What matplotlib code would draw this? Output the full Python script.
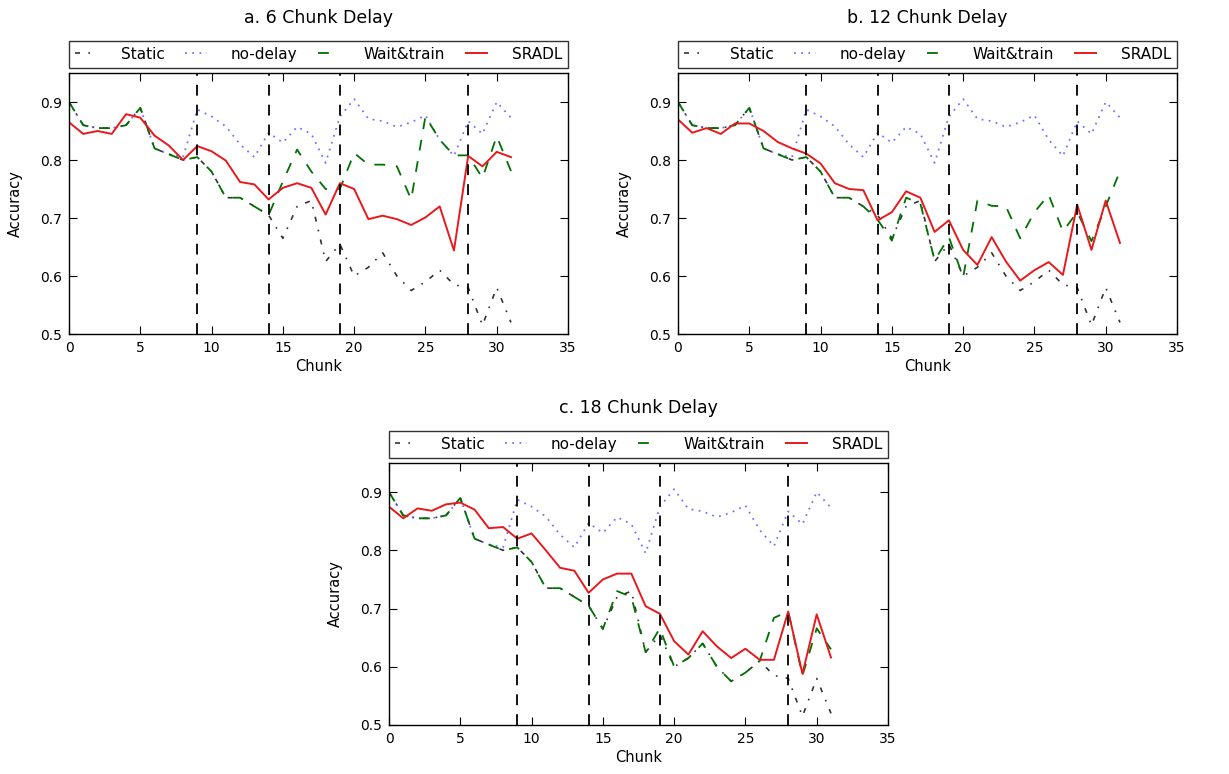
import numpy as np
import matplotlib
matplotlib.use("Agg")
import matplotlib.pyplot as plt

chunks = np.arange(32)

static = [0.90, 0.86, 0.855, 0.855, 0.86, 0.89, 0.82, 0.81, 0.80, 0.805,
          0.78, 0.735, 0.735, 0.72, 0.705, 0.665, 0.72, 0.73, 0.625, 0.655,
          0.60, 0.615, 0.64, 0.60, 0.575, 0.59, 0.61, 0.585, 0.58, 0.515,
          0.58, 0.52]

no_delay = [0.90, 0.86, 0.855, 0.855, 0.86, 0.89, 0.82, 0.81, 0.805, 0.887,
            0.875, 0.858, 0.827, 0.805, 0.847, 0.83, 0.857, 0.845, 0.795, 0.875,
            0.905, 0.871, 0.867, 0.857, 0.865, 0.877, 0.835, 0.807, 0.867, 0.845,
            0.90, 0.873]

# Wait&train for 6 / 12 / 18 chunk delay
wait_a = [0.90, 0.86, 0.855, 0.855, 0.86, 0.89, 0.82, 0.81, 0.80, 0.805,
          0.78, 0.735, 0.735, 0.72, 0.705, 0.763, 0.818, 0.78, 0.75, 0.75,
          0.812, 0.792, 0.792, 0.789, 0.732, 0.875, 0.835, 0.808, 0.808, 0.769,
          0.841, 0.781]
wait_b = [0.90, 0.86, 0.855, 0.855, 0.86, 0.89, 0.82, 0.81, 0.80, 0.805,
          0.78, 0.735, 0.735, 0.72, 0.697, 0.661, 0.735, 0.725, 0.627, 0.667,
          0.598, 0.73, 0.721, 0.72, 0.665, 0.71, 0.74, 0.677, 0.71, 0.66,
          0.72, 0.781]
wait_c = [0.90, 0.86, 0.855, 0.855, 0.86, 0.89, 0.82, 0.81, 0.80, 0.805,
          0.78, 0.735, 0.735, 0.72, 0.705, 0.665, 0.73, 0.72, 0.625, 0.666,
          0.60, 0.615, 0.64, 0.60, 0.575, 0.59, 0.61, 0.684, 0.695, 0.585,
          0.666, 0.63]

# SRADL for 6 / 12 / 18 chunk delay
sradl_a = [0.865, 0.845, 0.85, 0.845, 0.879, 0.873, 0.842, 0.825, 0.80, 0.824,
           0.815, 0.799, 0.762, 0.758, 0.732, 0.752, 0.76, 0.752, 0.706, 0.76,
           0.75, 0.698, 0.704, 0.698, 0.688, 0.701, 0.72, 0.644, 0.807, 0.789,
           0.814, 0.805]
sradl_b = [0.87, 0.847, 0.855, 0.845, 0.863, 0.863, 0.85, 0.831, 0.82, 0.811,
           0.794, 0.76, 0.75, 0.748, 0.696, 0.71, 0.746, 0.735, 0.676, 0.696,
           0.645, 0.619, 0.667, 0.625, 0.592, 0.61, 0.624, 0.602, 0.723, 0.645,
           0.73, 0.657]
sradl_c = [0.875, 0.855, 0.872, 0.868, 0.879, 0.882, 0.87, 0.838, 0.84, 0.82,
           0.829, 0.80, 0.77, 0.765, 0.727, 0.75, 0.76, 0.76, 0.704, 0.691,
           0.644, 0.621, 0.661, 0.635, 0.615, 0.631, 0.612, 0.612, 0.695, 0.588,
           0.69, 0.616]

delay_marks = [9, 14, 19, 28]
titles = ["a. 6 Chunk Delay", "b. 12 Chunk Delay", "c. 18 Chunk Delay"]

fig = plt.figure(figsize=(12.29, 7.74), dpi=100)
fig.patch.set_facecolor("white")

positions = [
    [69 / 1229, 1 - 334 / 774, 499 / 1229, 261 / 774],
    [678 / 1229, 1 - 334 / 774, 499 / 1229, 261 / 774],
    [389 / 1229, 1 - 725 / 774, 499 / 1229, 262 / 774],
]
waits = [wait_a, wait_b, wait_c]
sradls = [sradl_a, sradl_b, sradl_c]

for k in range(3):
    ax = fig.add_axes(positions[k])
    l1, = ax.plot(chunks, static, color="k", linestyle=(0, (3, 5, 1, 5)), lw=1.2, alpha=0.8, label="Static")
    l2, = ax.plot(chunks, no_delay, color="#5050ff", linestyle=(0, (1, 3)), lw=1.3, alpha=0.8, label="no-delay")
    l3, = ax.plot(chunks, waits[k], color="#007000", linestyle=(0, (6, 6)), lw=1.3, label="Wait&train")
    l4, = ax.plot(chunks, sradls[k], color="#e8191d", linestyle="-", lw=1.4, label="SRADL")
    for d in delay_marks:
        ax.axvline(d, color="k", linestyle=(0, (6, 5)), lw=1.3)
    ax.set_xlim(0, 35)
    ax.set_ylim(0.5, 0.95)
    ax.set_xticks([0, 5, 10, 15, 20, 25, 30, 35])
    ax.set_yticks([0.5, 0.6, 0.7, 0.8, 0.9])
    ax.tick_params(direction="in", top=True, right=True, length=6, labelsize=10, pad=5)
    ax.set_xlabel("Chunk", fontsize=10.5, labelpad=3)
    ax.set_ylabel("Accuracy", fontsize=10.5, labelpad=12)
    for s in ax.spines.values():
        s.set_linewidth(1.0)
    leg = ax.legend(handles=[l1, l2, l3, l4], loc="lower left", bbox_to_anchor=(0, 1.02, 1, 0.103),
                    mode="expand", ncol=4, borderaxespad=0, fontsize=11, fancybox=False,
                    frameon=True, handlelength=1.4, handletextpad=1.6)
    leg.get_frame().set_edgecolor("black")
    leg.get_frame().set_linewidth(1.0)
    ax.text(0.5, 1.21, titles[k], transform=ax.transAxes, ha="center", va="center", fontsize=12.5)

fig.savefig("out.png", dpi=100, facecolor="white")
